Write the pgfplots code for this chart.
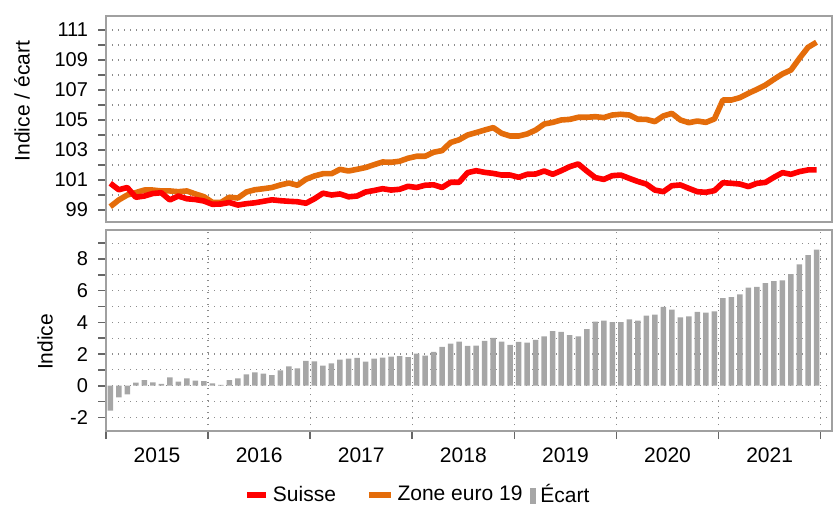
\documentclass[border=0pt]{standalone}
\usepackage{fontspec}
\setmainfont{Liberation Sans}
\usepackage{pgfplots}
\usepackage{pgfplotstable}
\pgfplotsset{compat=1.18}
\definecolor{suisse}{RGB}{255,0,0}
\definecolor{euro}{RGB}{228,108,10}
\definecolor{ecart}{RGB}{166,166,166}
\definecolor{framec}{RGB}{160,160,160}

\pgfplotstableread{
i suisse euro ecart
0 100.78 99.22 -1.58
1 100.35 99.67 -0.74
2 100.50 100.00 -0.55
3 99.85 100.16 0.19
4 99.93 100.33 0.36
5 100.10 100.33 0.21
6 100.15 100.27 0.11
7 99.67 100.27 0.53
8 99.93 100.22 0.25
9 99.75 100.27 0.46
10 99.70 100.07 0.32
11 99.60 99.89 0.29
12 99.38 99.51 0.15
13 99.40 99.50 0.06
14 99.50 99.85 0.36
15 99.33 99.80 0.46
16 99.42 100.20 0.72
17 99.48 100.35 0.84
18 99.58 100.42 0.76
19 99.68 100.50 0.67
20 99.62 100.67 0.97
21 99.58 100.80 1.22
22 99.55 100.65 1.09
23 99.45 101.05 1.56
24 99.75 101.27 1.54
25 100.12 101.42 1.26
26 100.00 101.42 1.41
27 100.07 101.71 1.65
28 99.88 101.60 1.71
29 99.93 101.71 1.75
30 100.20 101.83 1.52
31 100.30 102.02 1.71
32 100.42 102.20 1.77
33 100.33 102.18 1.84
34 100.38 102.25 1.86
35 100.58 102.45 1.81
36 100.50 102.58 2.03
37 100.65 102.58 1.90
38 100.68 102.85 2.13
39 100.50 102.96 2.45
40 100.85 103.50 2.66
41 100.85 103.68 2.78
42 101.49 104.00 2.51
43 101.62 104.16 2.53
44 101.51 104.33 2.83
45 101.44 104.49 3.02
46 101.33 104.11 2.78
47 101.33 103.93 2.57
48 101.18 103.93 2.76
49 101.38 104.07 2.72
50 101.40 104.33 2.89
51 101.60 104.73 3.12
52 101.38 104.84 3.44
53 101.62 105.00 3.40
54 101.89 105.04 3.19
55 102.07 105.18 3.12
56 101.60 105.18 3.57
57 101.16 105.22 4.05
58 101.04 105.16 4.11
59 101.29 105.33 4.01
60 101.33 105.38 4.01
61 101.11 105.33 4.18
62 100.90 105.05 4.11
63 100.73 105.04 4.43
64 100.33 104.89 4.49
65 100.22 105.27 4.98
66 100.62 105.44 4.81
67 100.67 105.00 4.32
68 100.44 104.82 4.37
69 100.22 104.93 4.66
70 100.18 104.84 4.62
71 100.29 105.07 4.70
72 100.82 106.33 5.53
73 100.78 106.33 5.59
74 100.73 106.49 5.76
75 100.56 106.78 6.20
76 100.78 107.04 6.24
77 100.84 107.33 6.48
78 101.18 107.71 6.60
79 101.49 108.07 6.65
80 101.38 108.33 7.05
81 101.56 109.11 7.66
82 101.67 109.84 8.25
83 101.67 110.18 8.59
}\data

\newcommand{\ff}{\fontsize{10.5pt}{12.5pt}\selectfont}
\newcommand{\ft}{\fontsize{10pt}{12pt}\selectfont}
\pgfplotsset{
  legsuisse/.style={legend image code/.code={\draw[suisse, line width=2.8pt] (0pt,0pt) -- (9.5pt,0pt);}},
  legeuro/.style={legend image code/.code={\draw[euro, line width=2.8pt] (0pt,0pt) -- (11pt,0pt);}},
  legecart/.style={legend image code/.code={\fill[ecart] (3pt,-4.5pt) rectangle (6pt,3.5pt);}},
}

\begin{document}
\begin{tikzpicture}
\path[use as bounding box] (0,0) rectangle (416.5pt,-254.5pt);
\pgfplotsset{
  base/.style={
    scale only axis,
    width=363pt,
    xmin=2015, xmax=2022.11,
    axis line style={draw=framec, line width=0.9pt},
    tick align=outside,
    ytick pos=left,
    xtick pos=bottom,
    tick style={draw=black!60, line width=0.8pt},
    major tick length=4pt,
    minor tick length=4pt,
    grid=both,
    major grid style={draw=black!45, dash pattern=on 0.6pt off 2.4pt, line width=0.6pt},
    minor grid style={draw=black!45, dash pattern=on 0.6pt off 2.4pt, line width=0.6pt},
    tick label style={font=\ft},
    yticklabel style={xshift=-1.5pt},
    label style={font=\ff},
    /pgf/number format/assume math mode=true,
  }
}
\begin{axis}[base,
  at={(53pt,-8pt)}, anchor=north west,
  height=103pt,
  ymin=98.2, ymax=111.93,
  ytick={99,101,...,111},
  minor ytick={100,102,...,110},
  xtick=\empty,
  minor xtick={2016,...,2022},
  ylabel={Indice / écart},
  ylabel style={at={(axis description cs:-0.1157,0.587)}, anchor=center},
]
\addplot[euro, line width=2.8pt, line join=round] table[x expr=2015+(\thisrow{i}+0.5)/12, y=euro]{\data};
\addplot[suisse, line width=2.8pt, line join=round] table[x expr=2015+(\thisrow{i}+0.5)/12, y=suisse]{\data};
\end{axis}

\begin{axis}[base,
  at={(53pt,-115pt)}, anchor=north west,
  height=100.5pt,
  ymin=-2.86, ymax=9.83,
  ytick={-2,0,...,8},
  minor ytick={-1,1,...,9},
  xtick={2015.5,2016.5,...,2021.5},
  xticklabels={2015,2016,2017,2018,2019,2020,2021},
  x tick label style={font=\ff, yshift=-1pt},
  major x tick style={draw=none},
  minor xtick={2015,...,2022},
  xmajorgrids=false,
  ylabel={Indice},
  ylabel style={at={(axis description cs:-0.084,0.443)}, anchor=center},
  legend style={at={(axis description cs:0.431,-0.318)}, anchor=center, draw=none, fill=none,
    font=\ff, legend columns=3,
    /tikz/column 2/.style={column sep=13pt},
    /tikz/column 4/.style={column sep=2pt}},
]
\addlegendimage{legsuisse}
\addlegendentry{Suisse}
\addlegendimage{legeuro}
\addlegendentry{Zone euro 19}
\addplot[ybar, bar width=2.75pt, bar shift=0pt, fill=ecart, draw=none, legecart]
  table[x expr=2015+(\thisrow{i}+0.5)/12, y=ecart]{\data};
\addlegendentry{Écart}
\end{axis}
\end{tikzpicture}
\end{document}
